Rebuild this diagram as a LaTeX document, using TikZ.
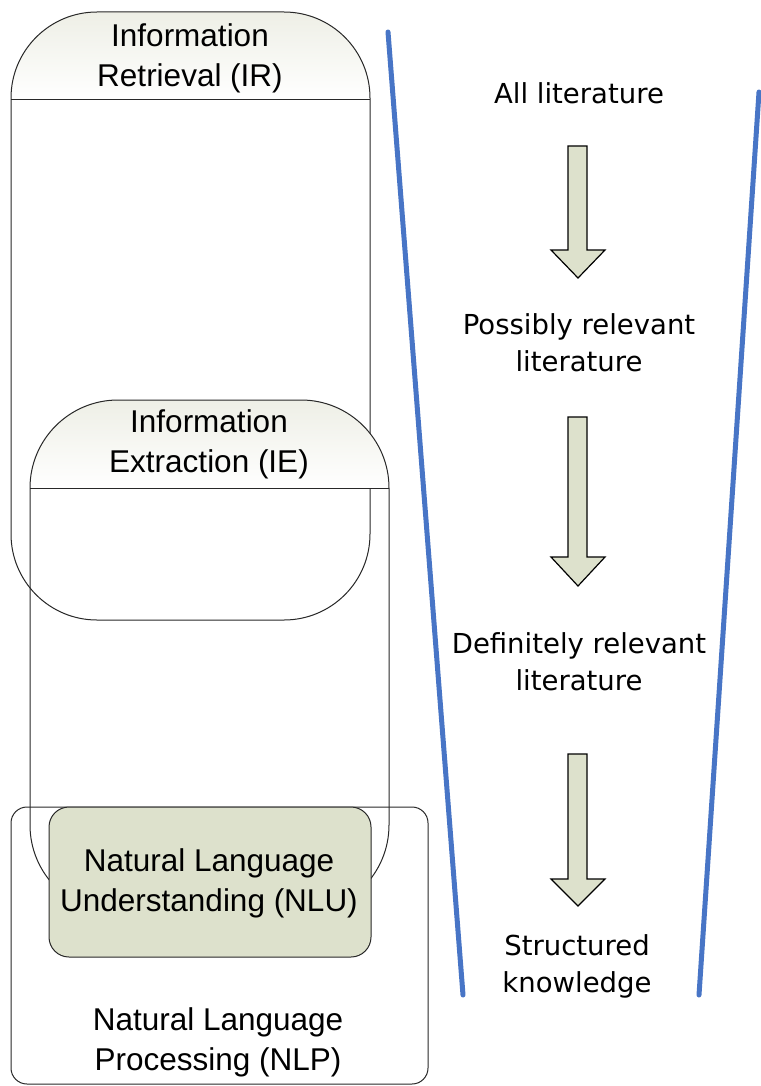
\documentclass[tikz,border=0pt]{standalone}
\usepackage{fontspec}
\setmainfont{Liberation Sans}
\newfontfamily\rfont{DejaVu Sans}
\definecolor{hdrtop}{RGB}{238,239,230}
\definecolor{boxgreen}{RGB}{221,225,204}
\definecolor{funnelblue}{RGB}{72,117,198}
\definecolor{edgegray}{RGB}{40,40,40}
\begin{document}
\begin{tikzpicture}[x=1pt,y=-1pt,
  lbl/.style={align=center,font=\fontsize{31.5}{40}\selectfont,inner sep=0pt},
  rlbl/.style={align=center,font=\rfont\fontsize{27.5}{37}\selectfont,inner sep=0pt},
  outline/.style={draw=edgegray,line width=1pt},
  funnel/.style={draw=funnelblue,line width=5pt,line cap=round},
  blockarrow/.style={draw=black,line width=1.2pt,fill=boxgreen,line join=miter}]
\useasboundingbox (0,0) rectangle (760,1086);
\fill[white] (0,0) rectangle (760,1086);
% IR
\begin{scope}
\clip[rounded corners=86pt] (11,12) rectangle (370,620);
\shade[top color=hdrtop,bottom color=white] (11,12) rectangle (370,100);
\end{scope}
\draw[outline,rounded corners=86pt] (11,12) rectangle (370,620);
\draw[outline] (11,100) -- (370,100);
\node[lbl] (ir) at (190,58) {Information\\Retrieval (IR)};
% IE
\begin{scope}
\clip[rounded corners=88pt] (30,400) rectangle (389,913);
\shade[top color=hdrtop,bottom color=white] (30,400) rectangle (389,488);
\end{scope}
\draw[outline,rounded corners=88pt] (30,400) rectangle (389,913);
\draw[outline] (30,488) -- (389,488);
\node[lbl] (ie) at (209,444) {Information\\Extraction (IE)};
% NLP
\draw[outline,rounded corners=16pt] (11,807) rectangle (428,1084);
\node[lbl] (nlp) at (218,1042) {Natural Language\\Processing (NLP)};
% NLU
\draw[outline,fill=boxgreen,rounded corners=20pt] (49,807) rectangle (371,957);
\node[lbl] (nlu) at (209,883) {Natural Language\\Understanding (NLU)};
% funnel
\coordinate (fl1) at (388,32);
\coordinate (fl2) at (463,995);
\coordinate (fr1) at (759,92);
\coordinate (fr2) at (699,995);
\draw[funnel] (fl1) -- (fl2);
\draw[funnel] (fr1) -- (fr2);
% right labels
\node[rlbl] (s1) at (579,93) {All literature};
\node[rlbl] (s2) at (579,343) {Possibly relevant\\literature};
\node[rlbl] (s3) at (579,662) {Definitely relevant\\literature};
\node[rlbl] (s4) at (577,966) {Structured\\knowledge};
% block arrows
\draw[blockarrow] (568,146) -- (587,146) -- (587,250) -- (605,250) -- (578,278) -- (551,250) -- (568,250) -- cycle;
\draw[blockarrow] (568,417) -- (587,417) -- (587,557) -- (605,557) -- (578,586) -- (551,557) -- (568,557) -- cycle;
\draw[blockarrow] (568,754) -- (587,754) -- (587,879) -- (605,879) -- (578,906) -- (551,879) -- (568,879) -- cycle;
\end{tikzpicture}
\end{document}
